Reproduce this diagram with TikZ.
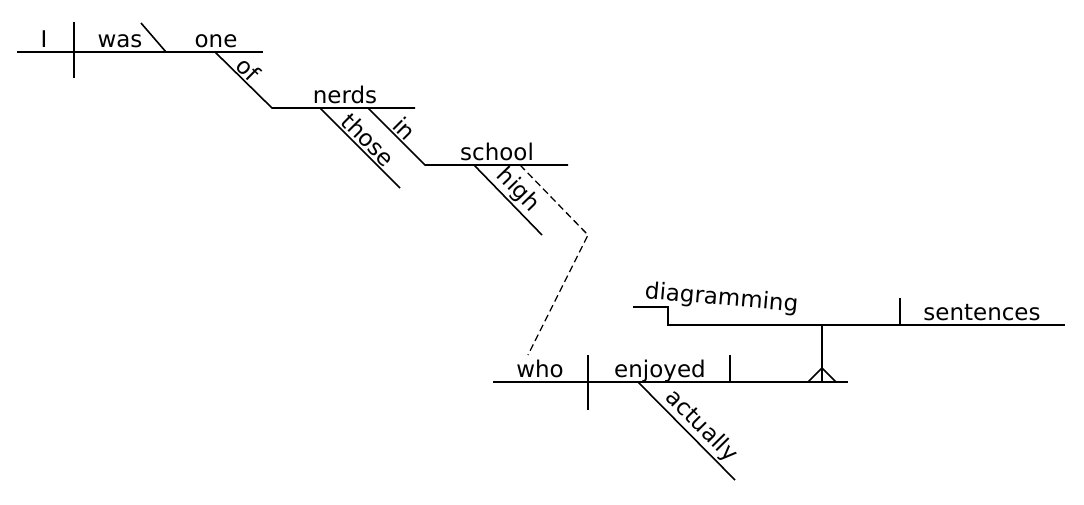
\documentclass[tikz,border=0pt]{standalone}
\usepackage{fontspec}
\setmainfont{DejaVu Sans}
\begin{document}
\tikzstyle{word} = [font=\fontsize{23}{27}\selectfont, inner sep=2pt]
\tikzstyle{rule} = [line width=1.6pt]
\begin{tikzpicture}[x=1pt,y=-1pt]
\useasboundingbox (0,0) rectangle (1084,504);

% subject and predicate
\coordinate (main0) at (17,52);
\coordinate (main1) at (263,52);
\draw [rule] (main0) -- (main1);
\draw [rule] (74,22) -- (74,78);
\draw [rule] (141,23) -- (166,52);
\node (i) [word, anchor=base] at (44,47) {I};
\node (was) [word, anchor=base] at (120,47) {was};
\node (one) [word, anchor=base] at (216,47) {one};

% of those nerds
\coordinate (of0) at (215,52);
\coordinate (nerds0) at (272,108);
\coordinate (nerds1) at (415,108);
\draw [rule] (of0) -- node[word, sloped, above, pos=0.45] {of} (nerds0) -- (nerds1);
\node (nerds) [word, anchor=base] at (345,103) {nerds};
\coordinate (those1) at (400,188);
\draw [rule] (320,108) -- node[word, sloped, above, pos=0.5] {those} (those1);

% in high school
\coordinate (school0) at (425,165);
\coordinate (school1) at (568,165);
\draw [rule] (368,108) -- node[word, sloped, above, pos=0.5] {in} (school0) -- (school1);
\node (school) [word, anchor=base] at (497,160) {school};
\draw [rule] (474,165) -- node[word, sloped, above, pos=0.5] {high} (542,235);

% relative clause
\coordinate (bend) at (588,235);
\coordinate (who0) at (493,382);
\coordinate (who1) at (848,382);
\draw [line width=1.3pt, dash pattern=on 7pt off 4pt] (520,165) -- (bend) -- (528,355);
\draw [rule] (who0) -- (who1);
\draw [rule] (588,355) -- (588,410);
\draw [rule] (730,355) -- (730,382);
\node (who) [word, anchor=base] at (540,377) {who};
\node (enjoyed) [word, anchor=base] at (660,377) {enjoyed};
\draw [rule] (638,382) -- node[word, sloped, above, pos=0.55] {actually} (735,480);

% gerund object on stilt
\draw [rule] (822,325) -- (822,382);
\draw [rule] (808,382) -- (822,368) -- (836,382);
\draw [rule] (633,307) -- (668,307) -- (668,325) -- (1065,325);
\draw [rule] (900,298) -- (900,325);
\node (diagramming) [word, anchor=base, rotate=-5] at (721,305) {diagramming};
\node (sentences) [word, anchor=base] at (982,320) {sentences};
\end{tikzpicture}
\end{document}
